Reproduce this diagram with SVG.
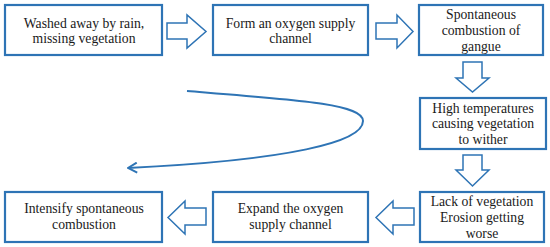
<svg xmlns="http://www.w3.org/2000/svg" width="550" height="247" viewBox="0 0 550 247">
<style>
.box{fill:#fff;stroke:#2e74b5;stroke-width:2.2}
.blk{fill:#fff;stroke:#2e74b5;stroke-width:1.5;stroke-linejoin:miter}
.lbl{font-family:'Liberation Serif',serif;font-size:13.7px;fill:#1a1a1a;text-anchor:middle}
.curve{fill:none;stroke:#2e74b5;stroke-width:2}
</style>
<defs>
<marker id="open" viewBox="0 0 12 12" refX="11" refY="6" markerWidth="12" markerHeight="12" markerUnits="userSpaceOnUse" orient="auto">
<path d="M2,1 L11,6 L2,11" fill="none" stroke="#2e74b5" stroke-width="2"/>
</marker>
</defs>
<rect width="550" height="247" fill="#fff"/>
<g id="n1"><rect class="box" x="5" y="5" width="157" height="50"/><text class="lbl" x="84" y="28">Washed away by rain,</text><text class="lbl" x="84" y="43">missing vegetation</text></g>
<g id="n2"><rect class="box" x="213" y="5" width="155" height="50"/><text class="lbl" x="290.5" y="28">Form an oxygen supply</text><text class="lbl" x="290.5" y="43">channel</text></g>
<g id="n3"><rect class="box" x="419" y="5" width="124" height="50"/><text class="lbl" x="481" y="19">Spontaneous</text><text class="lbl" x="481" y="35">combustion of</text><text class="lbl" x="481" y="51">gangue</text></g>
<g id="n4"><rect class="box" x="420" y="98" width="126" height="51"/><text class="lbl" x="483" y="113">High temperatures</text><text class="lbl" x="483" y="128">causing vegetation</text><text class="lbl" x="483" y="144">to wither</text></g>
<g id="n5"><rect class="box" x="420" y="192" width="124" height="50"/><text class="lbl" x="482" y="206">Lack of vegetation</text><text class="lbl" x="482" y="222">Erosion getting</text><text class="lbl" x="482" y="238">worse</text></g>
<g id="n6"><rect class="box" x="213" y="192" width="155" height="50"/><text class="lbl" x="290.5" y="213">Expand the oxygen</text><text class="lbl" x="290.5" y="229">supply channel</text></g>
<g id="n7"><rect class="box" x="5" y="192" width="157" height="50"/><text class="lbl" x="84" y="213">Intensify spontaneous</text><text class="lbl" x="84" y="229">combustion</text></g>
<g id="connectors">
<path class="blk" d="M167,23 H187 V15 L206,31.5 L187,48 V39 H167 Z"/>
<path class="blk" d="M376,23 H397 V15 L413,31.5 L397,48 V39 H376 Z"/>
<path class="blk" d="M463,62 H482 V78 H489 L472.5,92 L456,78 H463 Z"/>
<path class="blk" d="M463,155 H482 V170 H489 L472.5,186 L456,170 H463 Z"/>
<path class="blk" d="M414,208 H393 V201 L376,217.5 L393,234 V225 H414 Z"/>
<path class="blk" d="M206,208 H185 V201 L168,217.5 L185,234 V225 H206 Z"/>
<path class="curve" d="M187,91 C300,100 363,104 363,121 C363,142 290,160 128,168" marker-end="url(#open)"/>
</g>
</svg>
